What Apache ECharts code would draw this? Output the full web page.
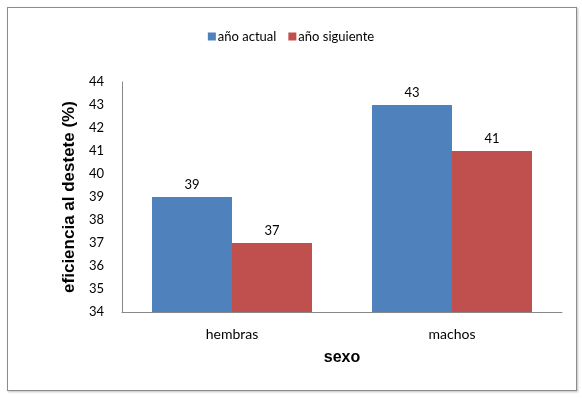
<!DOCTYPE html>
<html>
<head>
<meta charset="utf-8">
<script src="https://cdn.jsdelivr.net/npm/echarts@6/dist/echarts.min.js"></script>
<style>
  html, body { margin: 0; padding: 0; background: #fff; }
  #chart { width: 582px; height: 398px; position: relative; }
  .frame {
    position: absolute; left: 7px; top: 7px; width: 568px; height: 382px;
    border: 1px solid #8c8c8c; box-shadow: 1px 1px 2px rgba(0,0,0,0.25);
    pointer-events: none;
  }
</style>
</head>
<body>
<div id="chart"></div>
<div class="frame"></div>
<script>
const categories = ['hembras', 'machos']
const actual = [39, 43]
const siguiente = [37, 41]
const seriesNames = ['año actual', 'año siguiente']

const font = 'Lato, "Open Sans", sans-serif'
const chart = echarts.init(document.getElementById('chart'))

const labelStyle = {
  show: true,
  position: 'top',
  distance: 6,
  color: '#000',
  fontFamily: font,
  fontSize: 13
}

chart.setOption({
  animation: false,
  legend: {
    data: seriesNames,
    top: 25,
    left: 'center',
    itemWidth: 8,
    itemHeight: 8,
    itemGap: 12,
    icon: 'rect',
    textStyle: { fontFamily: font, fontSize: 13, color: '#000', padding: [0, 0, 0, -3] }
  },
  grid: { left: 122, right: 20, top: 82, bottom: 86 },
  xAxis: {
    type: 'category',
    data: categories,
    name: 'sexo',
    nameLocation: 'middle',
    nameGap: 38,
    nameTextStyle: { fontFamily: 'Liberation Sans, Arial', fontWeight: 'bold', fontSize: 16, color: '#000' },
    axisLine: { lineStyle: { color: '#888', width: 1 } },
    axisTick: { show: false },
    axisLabel: { fontFamily: font, fontSize: 14, color: '#000', margin: 15 }
  },
  yAxis: {
    type: 'value',
    min: 34,
    max: 44,
    interval: 1,
    name: 'eficiencia al destete (%)',
    nameLocation: 'middle',
    nameGap: 44,
    nameTextStyle: { fontFamily: 'Liberation Sans, Arial', fontWeight: 'bold', fontSize: 17, color: '#000' },
    axisLine: { show: true, lineStyle: { color: '#888', width: 1 } },
    axisTick: { show: false },
    splitLine: { show: false },
    axisLabel: { fontFamily: font, fontSize: 13, color: '#000', margin: 18 }
  },
  series: [
    {
      name: seriesNames[0],
      type: 'bar',
      data: actual,
      barWidth: 80,
      barGap: '0%',
      itemStyle: { color: '#4F81BD' },
      label: labelStyle
    },
    {
      name: seriesNames[1],
      type: 'bar',
      data: siguiente,
      barWidth: 80,
      itemStyle: { color: '#C0504D' },
      label: labelStyle
    }
  ]
})
</script>
</body>
</html>
